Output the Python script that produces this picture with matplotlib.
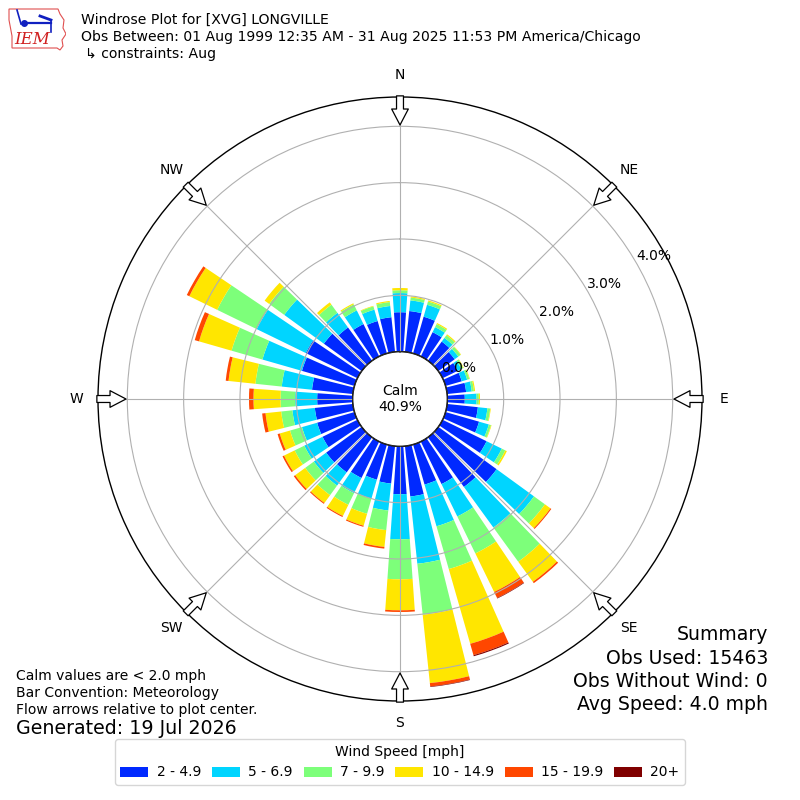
import numpy as np
import matplotlib
matplotlib.use("Agg")
import matplotlib.pyplot as plt
from matplotlib.patches import Patch, Polygon

# ---------------- data ----------------
directions = list(range(0, 360, 10))          # degrees, meteorological
speed_bins = ["2 - 4.9", "5 - 6.9", "7 - 9.9", "10 - 14.9", "15 - 19.9", "20+"]
# percent of observations per direction and speed bin
s_2_5 = [0.70, 0.73, 0.68, 0.48, 0.42, 0.36, 0.30, 0.30, 0.34, 0.31, 0.55, 0.62,
         0.87, 1.28, 1.09, 0.84, 0.74, 0.90, 0.85, 0.67, 0.65, 0.72, 0.77, 0.78,
         0.69, 0.69, 0.68, 0.63, 0.73, 0.97, 1.02, 0.83, 0.73, 0.64, 0.60, 0.62]
s_5_7 = [0.34, 0.19, 0.22, 0.10, 0.08, 0.08, 0.07, 0.10, 0.10, 0.21, 0.17, 0.18,
         0.30, 0.82, 0.89, 0.64, 0.77, 1.20, 0.80, 0.48, 0.35, 0.30, 0.29, 0.27,
         0.36, 0.28, 0.40, 0.39, 0.54, 0.73, 0.97, 0.87, 0.32, 0.27, 0.21, 0.20]
s_7_10 = [0.05, 0.05, 0.06, 0.06, 0.06, 0.05, 0.04, 0.04, 0.04, 0.04, 0.05, 0.04,
          0.07, 0.24, 0.75, 0.73, 0.79, 0.91, 0.71, 0.35, 0.28, 0.23, 0.21, 0.19,
          0.19, 0.22, 0.20, 0.26, 0.47, 0.57, 0.78, 0.33, 0.18, 0.12, 0.06, 0.07]
s_10_15 = [0.04, 0.02, 0.02, 0.02, 0.02, 0.01, 0.01, 0.01, 0.02, 0.02, 0.01, 0.01,
           0.03, 0.12, 0.44, 0.76, 1.38, 1.22, 0.55, 0.30, 0.22, 0.22, 0.17, 0.22,
           0.21, 0.19, 0.28, 0.48, 0.48, 0.60, 0.55, 0.10, 0.05, 0.02, 0.01, 0.02]
s_15_20 = [0.00, 0.00, 0.00, 0.00, 0.00, 0.00, 0.00, 0.00, 0.00, 0.00, 0.00, 0.00,
           0.00, 0.02, 0.03, 0.12, 0.21, 0.06, 0.03, 0.03, 0.02, 0.02, 0.02, 0.03,
           0.03, 0.04, 0.06, 0.08, 0.05, 0.08, 0.05, 0.00, 0.00, 0.00, 0.00, 0.00]
s_20p = [0.00, 0.00, 0.00, 0.00, 0.00, 0.00, 0.00, 0.00, 0.00, 0.00, 0.00, 0.00,
         0.00, 0.00, 0.00, 0.01, 0.02, 0.01, 0.00, 0.00, 0.00, 0.00, 0.00, 0.00,
         0.00, 0.00, 0.00, 0.00, 0.00, 0.00, 0.00, 0.00, 0.00, 0.00, 0.00, 0.00]
calm_pct = 40.9
rticks = [0, 1, 2, 3, 4]
cardinals = ["N", "NE", "E", "SE", "S", "SW", "W", "NW"]
cardinal_deg = [0, 45, 90, 135, 180, 225, 270, 315]

title_lines = ["Windrose Plot for [XVG] LONGVILLE",
               "Obs Between: 01 Aug 1999 12:35 AM - 31 Aug 2025 11:53 PM America/Chicago",
               "\u21b3 constraints: Aug"]
notes = ["Calm values are < 2.0 mph", "Bar Convention: Meteorology",
         "Flow arrows relative to plot center."]
generated = "Generated: 19 Jul 2026"
summary = ["Summary", "Obs Used: 15463", "Obs Without Wind: 0", "Avg Speed: 4.0 mph"]

# ---------------- figure ----------------
fig = plt.figure(figsize=(8, 8), dpi=100)
ax = fig.add_axes([0.1225, 0.12375, 0.755, 0.755], projection="polar")
ax.set_theta_zero_location("N")
ax.set_theta_direction(-1)
rmax = 4.52
ax.set_rorigin(-0.84)
ax.set_ylim(0, rmax)

colors = plt.cm.jet(np.linspace(0, 1, 7))[1:]
series = [s_2_5, s_5_7, s_7_10, s_10_15, s_15_20, s_20p]
theta = np.deg2rad(directions)
bottom = np.zeros(len(directions))
for vals, col, lab in zip(series, colors, speed_bins):
    vals = np.asarray(vals)
    ax.bar(theta, vals, width=np.deg2rad(8), bottom=bottom, color=col,
           edgecolor="none", align="center", zorder=1)
    bottom = bottom + vals

ax.set_axisbelow(False)
ax.set_xticks(np.deg2rad(cardinal_deg))
ax.set_xticklabels(cardinals, fontsize=10)
ax.tick_params(axis="x", pad=5)
ax.set_yticks(rticks)
ax.set_yticklabels(["%.1f%%" % v for v in rticks], fontsize=10)
ax.set_rlabel_position(60)
ax.grid(True, color="#b0b0b0", lw=0.8)
for sp in ax.spines.values():
    sp.set_edgecolor("black")
    sp.set_linewidth(1.0)

# calm circle
tt = np.linspace(0, 2 * np.pi, 361)
ax.plot(tt, np.zeros_like(tt), color="black", lw=1.0, zorder=4)
ax.text(0.5, 0.5, "Calm\n%.1f%%" % calm_pct, transform=ax.transAxes,
        ha="center", va="center", fontsize=10, zorder=5)

# flow arrows
px_per_unit = 302 / (rmax + 0.84)
tip_r = rmax - 28 / px_per_unit
for d in cardinal_deg:
    ax.annotate("", xy=(np.deg2rad(d), tip_r), xytext=(np.deg2rad(d), rmax + 0.02),
                arrowprops=dict(facecolor="white", edgecolor="black", lw=0.9,
                                width=5, headwidth=12, headlength=11.5, shrink=0),
                annotation_clip=False, zorder=6)

# titles
fig.text(81 / 800, 1 - 20 / 800, title_lines[0], fontsize=10.1, va="center", ha="left")
fig.text(81 / 800, 1 - 37 / 800, title_lines[1], fontsize=10.1, va="center", ha="left")
fig.text(85 / 800, 1 - 54 / 800, title_lines[2], fontsize=10.1, va="center", ha="left")

for i, t in enumerate(notes):
    fig.text(16 / 800, 1 - (676 + 17 * i) / 800, t, fontsize=10, va="center", ha="left")
fig.text(16 / 800, 1 - 729 / 800, generated, fontsize=13.7, va="center", ha="left")

for i, t in enumerate(summary):
    fig.text(768 / 800, 1 - (635 + 23.3 * i) / 800, t, fontsize=13.6, va="center", ha="right")

# legend
handles = [Patch(facecolor=c, edgecolor="none") for c in colors]
leg = fig.legend(handles, speed_bins, ncol=6, loc="lower center",
                 bbox_to_anchor=(0.5, 0.01), title="Wind Speed [mph]", fontsize=10,
                 title_fontsize=10, columnspacing=0.8, handletextpad=0.6,
                 frameon=True, fancybox=True)
leg.get_frame().set_edgecolor("#cccccc")

# IEM logo (simplified)
lax = fig.add_axes([8 / 800, 1 - 52 / 800, 58 / 800, 46 / 800])
lax.set_xlim(0, 58)
lax.set_ylim(46, 0)
lax.axis("off")
iowa = Polygon([(1, 3), (50, 3), (52, 8), (56, 14), (55, 22), (58, 28), (54, 34),
                (55, 40), (52, 44), (49, 42), (4, 42), (4, 30), (1, 14)],
               closed=True, fill=False, edgecolor="#e05050", lw=0.8)
lax.add_patch(iowa)
lax.text(24, 33, "IEM", color="#d02020", fontsize=12, style="italic",
         family="DejaVu Serif", ha="center", va="center")
blue = "#1020c0"
lax.plot([9, 13], [4, 18], color=blue, lw=1.2)
lax.plot([16, 43], [17, 17], color=blue, lw=1.6)
lax.plot([16.5], [17], "o", color=blue, ms=4)
lax.plot([32, 43], [10, 14], color=blue, lw=2.0)
lax.plot([43, 43], [14, 26], color=blue, lw=1.2)

fig.savefig("out.png", dpi=100)
